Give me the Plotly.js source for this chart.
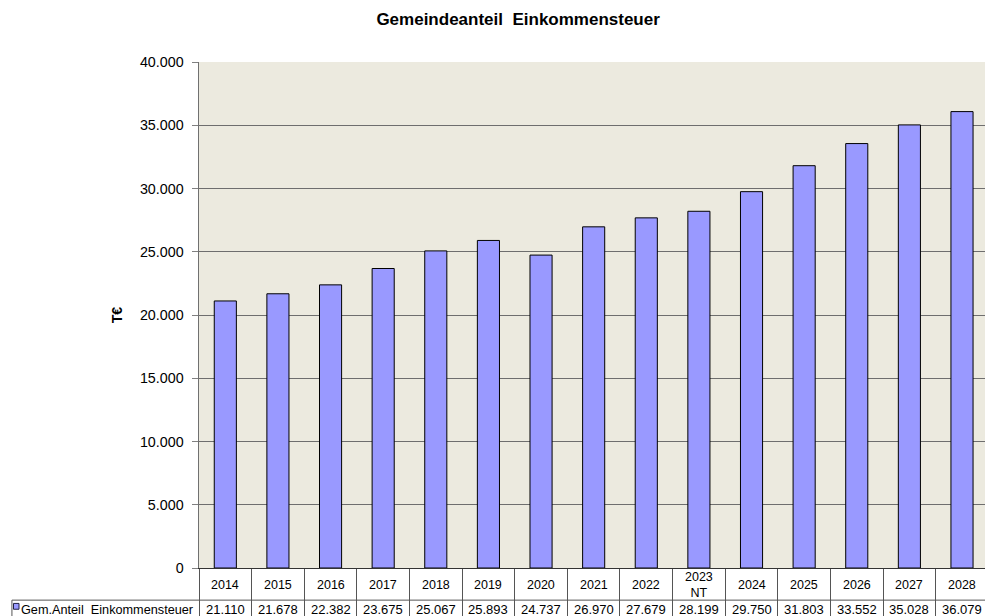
<!DOCTYPE html>
<html><head><meta charset="utf-8">
<script src="https://cdn.plot.ly/plotly-3.0.1.min.js"></script>
<style>body{margin:0;background:#fff}#c{width:985px;height:616px}</style>
</head><body><div id="c"></div>
<script>
var categories = ['2014','2015','2016','2017','2018','2019','2020','2021','2022','2023<br>NT','2024','2025','2026','2027','2028'];
var values = [21110,21678,22382,23675,25067,25893,24737,26970,27679,28199,29750,31803,33552,35028,36079];
var valueLabels = ['21.110','21.678','22.382','23.675','25.067','25.893','24.737','26.970','27.679','28.199','29.750','31.803','33.552','35.028','36.079'];
var seriesName = 'Gem.Anteil  Einkommensteuer';
var yTickVals = [0,5000,10000,15000,20000,25000,30000,35000,40000];
var yTickText = ['0','5.000','10.000','15.000','20.000','25.000','30.000','35.000','40.000'];

var idx = categories.map(function(_,i){return i;});
var font = 'Liberation Sans, Arial, sans-serif';
var tableLine = '#555';
var annotations = [];
idx.forEach(function(i){
  annotations.push({x:i, xref:'x', y:-0.034, yref:'paper', text:categories[i], showarrow:false,
    yanchor:'middle', font:{family:font,size:12.5,color:'#000'}});
  annotations.push({x:i, xref:'x', y:-0.083, yref:'paper', text:valueLabels[i], showarrow:false,
    yanchor:'middle', font:{family:font,size:13,color:'#000'}});
});
annotations.push({x:-0.2288, xref:'paper', y:-0.083, yref:'paper', text:seriesName, showarrow:false,
  xanchor:'left', yanchor:'middle', font:{family:font,size:12.7,color:'#000'}});

var shapes = [
  {type:'line', xref:'paper', yref:'paper', x0:-0.238, x1:1, y0:-0.0635, y1:-0.0635, line:{color:tableLine,width:1}},
  {type:'line', xref:'paper', yref:'paper', x0:-0.238, x1:-0.238, y0:-0.0635, y1:-0.12, line:{color:tableLine,width:1}},
  {type:'rect', xref:'paper', yref:'paper', x0:-0.2360, x1:-0.2290, y0:-0.0700, y1:-0.0815, fillcolor:'#9999FF', line:{color:'#222244',width:1}}
];

var trace = {type:'bar', x:idx, y:values, width:0.42, name:seriesName,
  marker:{color:'#9999FF', line:{color:'#000', width:1}}, hoverinfo:'skip'};

var layout = {
  width:985, height:616,
  margin:{l:199, r:0, t:62, b:48},
  paper_bgcolor:'#fff', plot_bgcolor:'#ECEADF',
  showlegend:false,
  title:{text:'<b>Gemeindeanteil  Einkommensteuer</b>', x:0.526, xref:'container', xanchor:'center', y:0.969, yanchor:'middle', font:{family:font,size:17,color:'#000'}},
  xaxis:{range:[-0.5,14.437], tickvals:idx.map(function(i){return i-0.5;}).concat([14.5]), showticklabels:false,
    ticks:'outside', ticklen:48, tickcolor:tableLine, tickwidth:1, showgrid:false, zeroline:false,
    showline:true, linecolor:'#333', linewidth:1, fixedrange:true},
  yaxis:{range:[0,40000], tickvals:yTickVals, ticktext:yTickText, ticks:'outside', ticklen:6, tickcolor:'#808080',
    ticklabelstandoff:5,
    showgrid:true, gridcolor:'#6E6E6E', gridwidth:1, zeroline:false, showline:true, linecolor:'#707070', linewidth:1.5,
    tickfont:{family:font,size:14.3,color:'#000'},
    title:{text:'<b>T€</b>', standoff:14, font:{family:font,size:14,color:'#000'}}, fixedrange:true},
  annotations:annotations, shapes:shapes, bargap:0.58
};
Plotly.newPlot('c',[trace],layout,{displayModeBar:false,staticPlot:true});
</script></body></html>
